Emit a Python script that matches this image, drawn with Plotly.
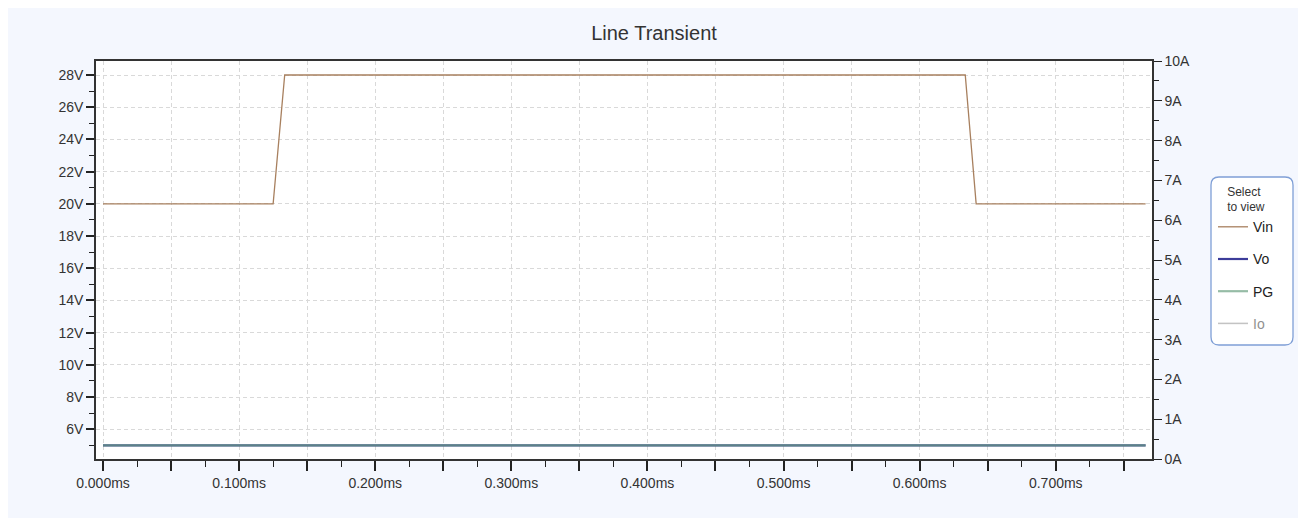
import plotly.graph_objects as go

# ---- data ----
vin_t = [0.0, 0.125, 0.1335, 0.6335, 0.6415, 0.766]   # ms
vin_v = [20, 20, 28, 28, 20, 20]                      # V
vo_t = [0.0, 0.766]
vo_v = [5, 5]
pg_t = [0.0, 0.766]
pg_v = [5, 5]
io_t = [0.0, 0.766]
io_a = [1, 1]

x_tick_vals = [i * 0.05 for i in range(16)]
x_tick_text = [f"{v:.3f}ms" if i % 2 == 0 else "" for i, v in enumerate(x_tick_vals)]
y_tick_vals = list(range(6, 29, 2))
y_tick_text = [f"{v}V" for v in y_tick_vals]
y2_tick_vals = list(range(0, 11))
y2_tick_text = [f"{v}A" for v in y2_tick_vals]

OFF = 8  # page body margin
W, H = 1290, 510
L, T = 96 - OFF, 61 - OFF
R = W - (1152 - OFF)
B = H - (459 - OFF)
pw, ph = W - L - R, H - T - B

fig = go.Figure()
fig.add_trace(go.Scatter(x=vin_t, y=vin_v, name="Vin", mode="lines",
                         line=dict(color="#a8805f", width=1.3), legendgroup="a"))
fig.add_trace(go.Scatter(x=vo_t, y=vo_v, name="Vo", mode="lines",
                         line=dict(color="#3c3c9a", width=2.2), legendgroup="b"))
fig.add_trace(go.Scatter(x=pg_t, y=pg_v, name="PG", mode="lines", opacity=0.7,
                         line=dict(color="#6aa080", width=2.2), legendgroup="c"))
fig.add_trace(go.Scatter(x=io_t, y=io_a, name="Io", mode="lines", yaxis="y2",
                         line=dict(color="#888888", width=1.5), legendgroup="d",
                         visible="legendonly"))

def px2paper_x(px):
    return (px - OFF - L) / pw

def px2paper_y(py):
    return (H - B - (py - OFF)) / ph

# rounded legend box (reference pixel coords)
x0, x1 = px2paper_x(1211), px2paper_x(1293)
y0, y1 = px2paper_y(345), px2paper_y(177)
rx, ry = 8 / pw, 8 / ph
path = (f"M {x0+rx},{y1} L {x1-rx},{y1} Q {x1},{y1} {x1},{y1-ry} "
        f"L {x1},{y0+ry} Q {x1},{y0} {x1-rx},{y0} L {x0+rx},{y0} "
        f"Q {x0},{y0} {x0},{y0+ry} L {x0},{y1-ry} Q {x0},{y1} {x0+rx},{y1} Z")

tickfont = dict(size=14, color="#333")
grid_kw = dict(showgrid=True, gridcolor="#d9d9d9", griddash="4px,3px", gridwidth=1)

fig.update_layout(
    width=W, height=H,
    margin=dict(l=L, r=R, t=T, b=B),
    paper_bgcolor="#f4f7fe",
    plot_bgcolor="white",
    font=dict(family="Liberation Sans, Arial, sans-serif", size=12, color="#333"),
    title=dict(text="Line Transient", xref="container", x=(654 - OFF) / W, xanchor="center",
               yref="container", y=1 - (33 - OFF) / H, yanchor="middle",
               font=dict(size=20, color="#333")),
    showlegend=True,
    legend=dict(
        x=px2paper_x(1213), y=px2paper_y(180), xanchor="left", yanchor="top",
        bgcolor="rgba(0,0,0,0)", borderwidth=0,
        title=dict(text="Select<br>to view", font=dict(size=12, color="#333"), side="top center"),
        font=dict(size=14, color="#222"),
        traceorder="grouped", tracegroupgap=11, itemwidth=30,
    ),
    shapes=[dict(type="path", path=path, xref="paper", yref="paper",
                 line=dict(color="#7f9fd6", width=1.3), fillcolor="white", layer="below")],
    xaxis=dict(
        range=[-0.00514, 0.7707],
        tickmode="array", tickvals=x_tick_vals, ticktext=x_tick_text,
        ticks="outside", ticklen=10, tickwidth=2, tickcolor="#222",
        showline=True, linecolor="#333", linewidth=1.5, mirror=True,
        zeroline=False,
        minor=dict(dtick=0.025, tick0=0, ticks="outside", ticklen=6, tickwidth=1,
                   tickcolor="#222", showgrid=False),
        tickfont=tickfont, **grid_kw,
    ),
    yaxis=dict(
        range=[4.15, 28.87],
        tickmode="array", tickvals=y_tick_vals, ticktext=y_tick_text,
        ticks="outside", ticklen=8, tickwidth=2, tickcolor="#222",
        showline=True, linecolor="#333", linewidth=1.5,
        zeroline=False,
        minor=dict(dtick=1, tick0=0, ticks="outside", ticklen=5, tickwidth=1,
                   tickcolor="#222", showgrid=False),
        tickfont=tickfont, **grid_kw,
    ),
    yaxis2=dict(
        range=[0, 10], overlaying="y", side="right",
        tickmode="array", tickvals=y2_tick_vals, ticktext=y2_tick_text,
        ticks="outside", ticklen=8, tickwidth=1, tickcolor="#222",
        showline=True, linecolor="#333", linewidth=1.5,
        showgrid=False, zeroline=False,
        minor=dict(dtick=0.5, tick0=0, ticks="outside", ticklen=5, tickwidth=1,
                   tickcolor="#222"),
        tickfont=tickfont,
    ),
)

fig.write_html("out.html")
